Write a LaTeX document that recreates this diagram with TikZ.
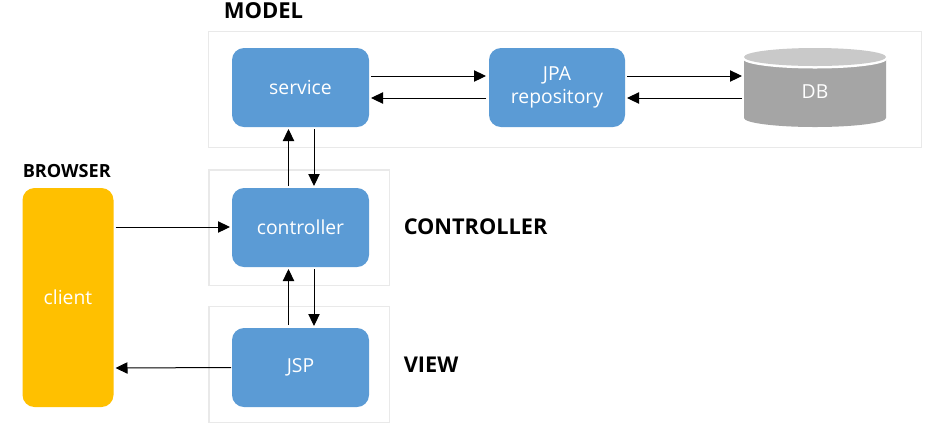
\documentclass[tikz,border=0pt]{standalone}
\usepackage{fontspec}
\setmainfont{Open Sans}
\usetikzlibrary{arrows.meta}
\definecolor{boxblue}{HTML}{5B9BD5}
\definecolor{clientyellow}{HTML}{FFC000}
\definecolor{framegray}{HTML}{E9E9E9}
\definecolor{dbbody}{HTML}{A5A5A5}
\definecolor{dbtop}{HTML}{C9C9C9}
\newdimen\px \px=.75pt
\newcommand{\lowertext}[2][.75pt]{\raisebox{-#1}{#2}}
\tikzset{
  x=.75pt,y=-.75pt,
  frame/.style={draw=framegray,line width=1.5\px,fill=white,anchor=north west,inner sep=0pt,outer sep=0pt},
  blockbox/.style={fill=boxblue,rounded corners=12\px,text=white,minimum width=137\px,minimum height=79\px,inner sep=0pt,outer sep=0pt,font=\fontsize{14.5pt}{17.5pt}\selectfont,align=center},
  title/.style={font=\bfseries\fontsize{16.3pt}{18pt}\selectfont,text=black,inner sep=0pt},
  smalltitle/.style={font=\bfseries\fontsize{13.6pt}{15pt}\selectfont,text=black,inner sep=0pt},
  arr/.style={draw=black,line width=1\px,-{Triangle[length=9pt,width=8.5pt]}},
}
\begin{document}
\begin{tikzpicture}
\useasboundingbox (0,0) rectangle (932,430);
\fill[white] (0,0) rectangle (932,430);
% frames
\node[frame,minimum width=713\px,minimum height=115.6\px] (modelframe) at (208.7,31.7) {};
\node[frame,minimum width=180.3\px,minimum height=115.7\px] (ctrlframe) at (209,170) {};
\node[frame,minimum width=180.3\px,minimum height=115.6\px] (viewframe) at (209,306.7) {};
% blocks
\node[blockbox] (service) at (300.5,87.5) {\lowertext{service}};
\node[blockbox,minimum width=136\px] (jpa) at (557,87.5) {\lowertext[2.25pt]{JPA}\\\lowertext[2.25pt]{repository}};
\node[blockbox] (controller) at (300.5,227.5) {\lowertext{controller}};
\node[blockbox] (jsp) at (300.5,367.5) {JSP};
\node[blockbox,fill=clientyellow,minimum width=91\px,minimum height=219\px] (client) at (68,297.5) {client};
% database
\fill[dbbody] (744,59) -- (886,59) -- (886,118) arc[start angle=0,end angle=180,x radius=71,y radius=9] -- cycle;
\fill[white] (815,59) ellipse[x radius=72,y radius=9.5];
\fill[dbtop] (815,57) ellipse[x radius=71,y radius=9];
\node[minimum width=142\px,minimum height=79\px,inner sep=0pt,outer sep=0pt] (db) at (815,87.5) {};
\node[text=white,font=\fontsize{14.5pt}{17.5pt}\selectfont,inner sep=0pt] (dblabel) at (815,92) {DB};
% titles
\node[title,font=\bfseries\fontsize{16.5pt}{18pt}\selectfont,anchor=west] (modeltitle) at (223.5,11) {MODEL};
\node[smalltitle,anchor=west] (browsertitle) at (22.5,171) {BROWSER};
\node[title,anchor=west] (ctrltitle) at (403.5,227) {CONTROLLER};
\node[title,anchor=west] (viewtitle) at (403.5,364.5) {VIEW};
% connectors
\draw[arr] ([xshift=2\px,yshift=11.5\px]service.east) -- ([xshift=-3\px,yshift=11.5\px]jpa.west);
\draw[arr] ([xshift=-3\px,yshift=-10.5\px]jpa.west) -- ([xshift=2\px,yshift=-10.5\px]service.east);
\draw[arr] ([xshift=2\px,yshift=11.5\px]jpa.east) -- ([xshift=-2\px,yshift=11.5\px]db.west);
\draw[arr] ([xshift=-2\px,yshift=-10.5\px]db.west) -- ([xshift=2\px,yshift=-10.5\px]jpa.east);
\draw[arr] ([xshift=-12\px,yshift=2\px]controller.north) -- ([xshift=-12\px,yshift=-2\px]service.south);
\draw[arr] ([xshift=13.5\px,yshift=-2\px]service.south) -- ([xshift=13.5\px,yshift=2\px]controller.north);
\draw[arr] ([xshift=-12\px,yshift=3\px]jsp.north) -- ([xshift=-12\px,yshift=-2\px]controller.south);
\draw[arr] ([xshift=13.5\px,yshift=-2\px]controller.south) -- ([xshift=13.5\px,yshift=2\px]jsp.north);
\draw[arr] ([xshift=2\px,yshift=.5\px]client.east |- controller.west) -- ([xshift=-2\px,yshift=.5\px]controller.west);
\draw[arr] ([xshift=-1\px]jsp.west) -- ([xshift=2\px,yshift=-.5\px]client.east |- jsp.west);
\end{tikzpicture}
\end{document}
